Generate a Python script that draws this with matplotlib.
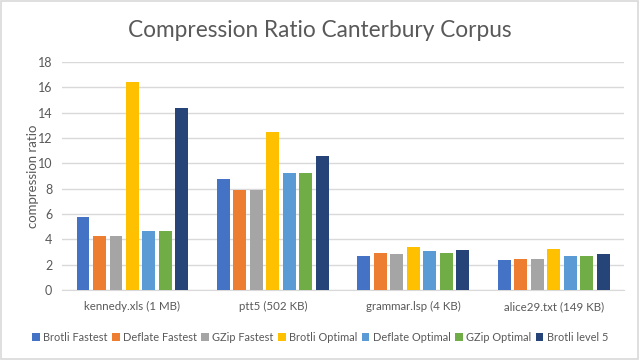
import matplotlib
matplotlib.use("Agg")
import matplotlib.pyplot as plt
import numpy as np

categories = ["kennedy.xls (1 MB)", "ptt5 (502 KB)", "grammar.lsp (4 KB)", "alice29.txt (149 KB)"]
series_names = ["Brotli Fastest", "Deflate Fastest", "GZip Fastest", "Brotli Optimal",
                "Deflate Optimal", "GZip Optimal", "Brotli level 5"]
brotli_fastest = [5.8, 8.76, 2.66, 2.37]
deflate_fastest = [4.3, 7.92, 2.92, 2.45]
gzip_fastest = [4.3, 7.92, 2.85, 2.45]
brotli_optimal = [16.45, 12.47, 3.4, 3.24]
deflate_optimal = [4.65, 9.27, 3.05, 2.71]
gzip_optimal = [4.65, 9.27, 2.95, 2.71]
brotli_level5 = [14.35, 10.57, 3.16, 2.84]
yticks = [0, 2, 4, 6, 8, 10, 12, 14, 16, 18]

series = [brotli_fastest, deflate_fastest, gzip_fastest, brotli_optimal,
          deflate_optimal, gzip_optimal, brotli_level5]
colors = ["#4472C4", "#ED7D31", "#A5A5A5", "#FFC000", "#5B9BD5", "#70AD47", "#264478"]

plt.rcParams['font.family'] = ['Lato', 'DejaVu Sans']

fig = plt.figure(figsize=(6.4, 3.6), dpi=100)
fig.patches.append(plt.Rectangle((0.002, 0.003), 0.995, 0.993, transform=fig.transFigure,
                                 fill=False, edgecolor="#D9D9D9", linewidth=1.2))
ax = fig.add_axes([0.097, 0.194, 0.878, 0.634])

x = np.arange(len(categories))
slot = 0.1174
bw = 0.09
for i, (vals, c, name) in enumerate(zip(series, colors, series_names)):
    ax.bar(x + (i - 3) * slot, vals, width=bw, color=c, label=name, zorder=3)

ax.set_xlim(-0.5, len(categories) - 0.5)
ax.set_ylim(0, 18)
ax.set_yticks(yticks)
ax.set_yticklabels([str(t) for t in yticks], color="#595959", fontsize=9)
ax.set_xticks(x)
ax.set_xticklabels(categories, color="#595959", fontsize=8.3)
ax.tick_params(axis="x", length=0, pad=8)
ax.tick_params(axis="y", length=0, pad=7)
ax.grid(axis="y", color="#D9D9D9", linewidth=1, zorder=0)
for s in ["top", "right", "left"]:
    ax.spines[s].set_visible(False)
ax.spines["bottom"].set_color("#D9D9D9")
ax.set_ylabel("compression ratio", color="#595959", fontsize=9.5, labelpad=-1)

fig.text(0.5, 0.915, "Compression Ratio Canterbury Corpus", ha="center", va="center",
         fontsize=16.3, color="#595959", fontweight="normal")

fig.legend(loc="center", bbox_to_anchor=(0.5, 0.063), ncol=7, frameon=False,
           fontsize=7.9, handlelength=0.7, handleheight=0.7, handletextpad=0.3,
           columnspacing=0.4, labelcolor="#595959")

fig.savefig("out.png", dpi=100)
